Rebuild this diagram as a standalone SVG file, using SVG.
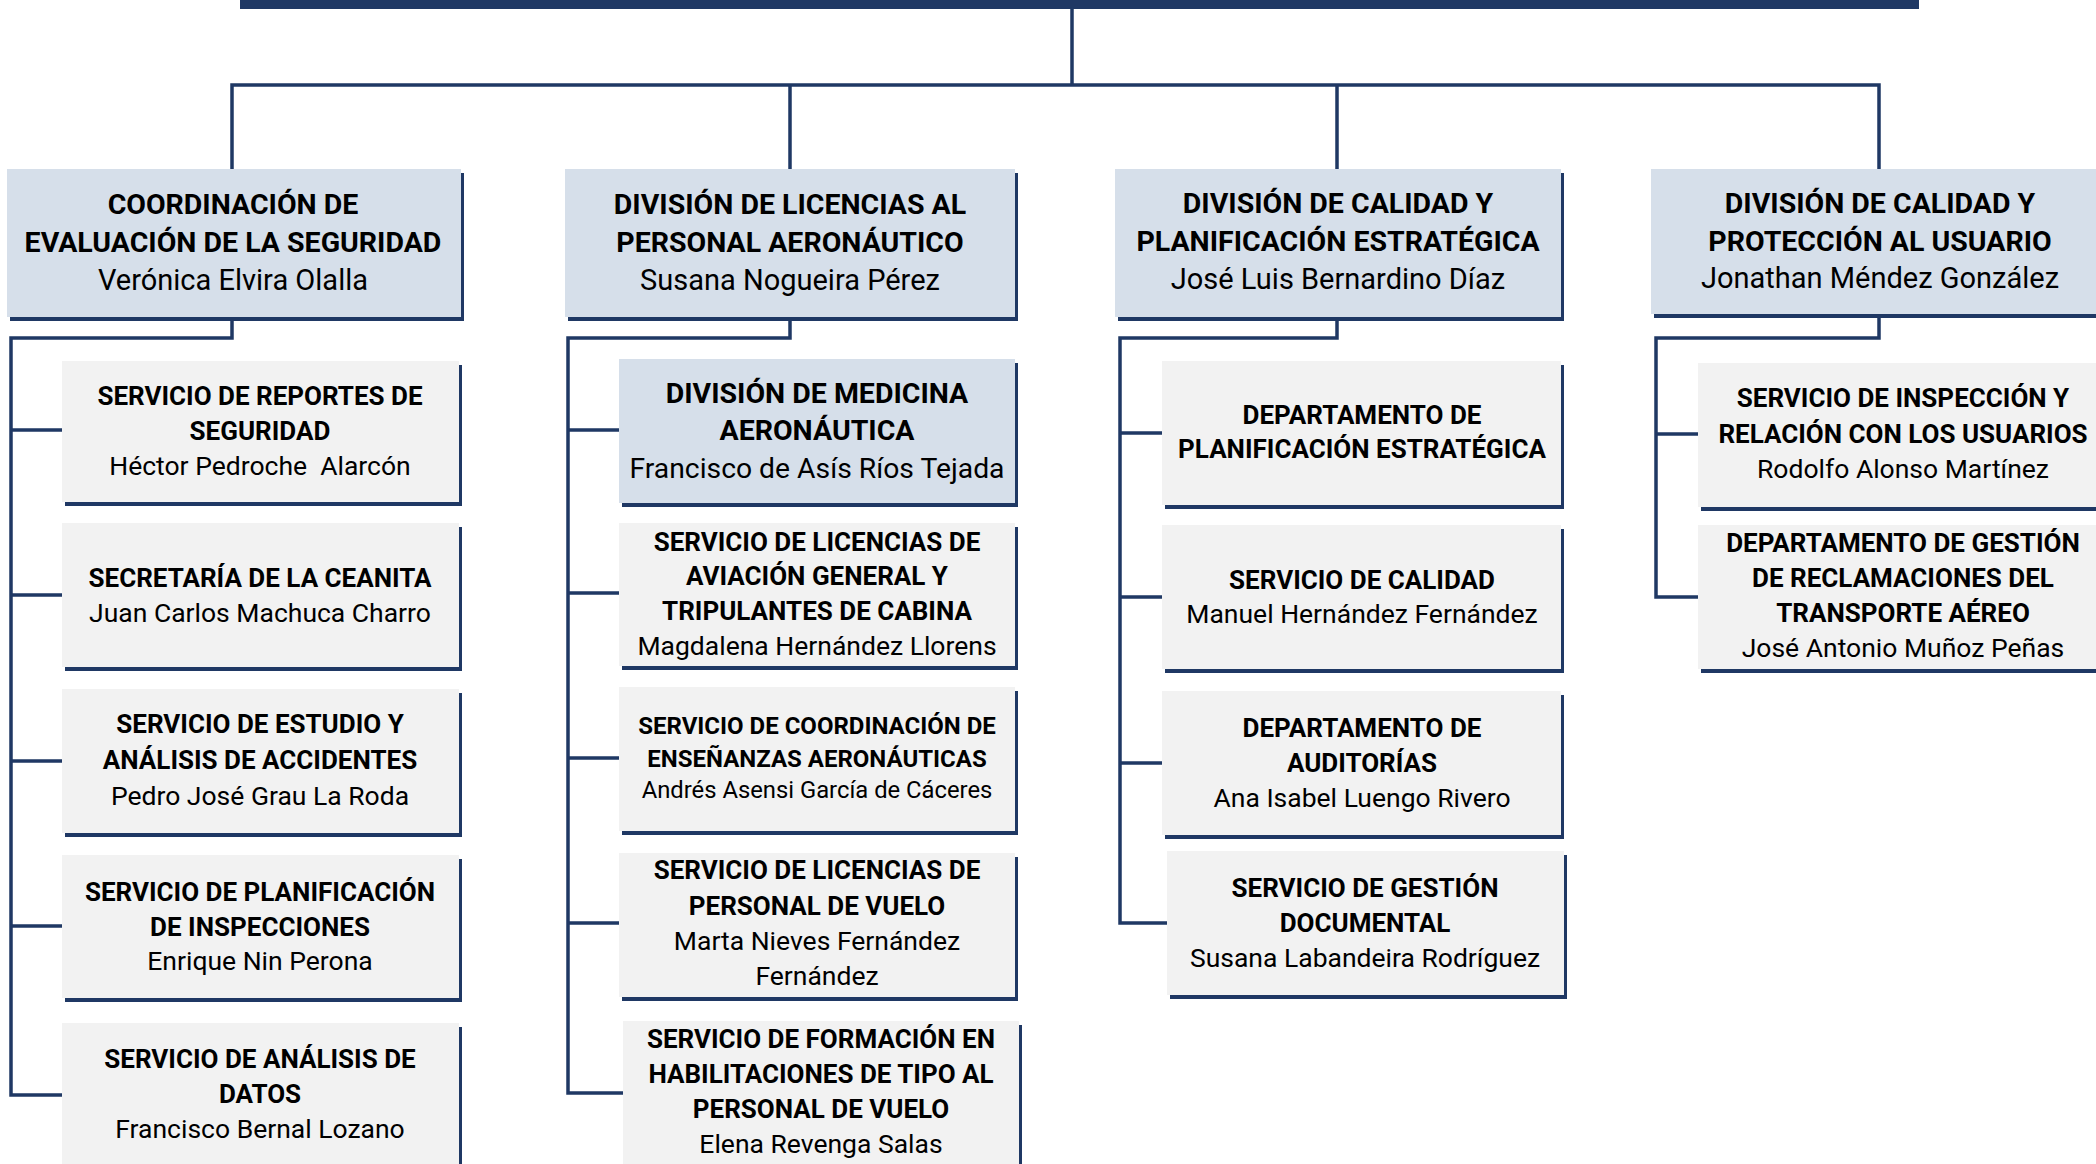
<svg xmlns="http://www.w3.org/2000/svg" width="2096" height="1164" viewBox="0 0 2096 1164">
<style>
.bg{fill:#ffffff}
.top{fill:#D6DFEA}
.ch{fill:#F2F2F2}
.sh{fill:#1F3864}
.ln{fill:none;stroke:#1F3864;stroke-width:3.5;stroke-linecap:square}
text{font-family:Roboto,"Liberation Sans",sans-serif;fill:#000;text-anchor:middle;white-space:pre}
.tt{font-weight:bold;font-size:28.5px}
.tn{font-size:29px}
.ct{font-weight:bold;font-size:26px}
.cn{font-size:26.5px}
.st{font-weight:bold;font-size:24px}
.sn{font-size:23.8px}
</style>
<rect class="bg" x="0" y="0" width="2096" height="1164"/>
<rect class="sh" x="240" y="-2" width="1679" height="11"/>

<g id="connectors">
<path class="ln" d="M1072 9 V85 M232 85 H1879 M232 85 V169 M790 85 V169 M1337 85 V169 M1879 85 V169"/>
<path class="ln" d="M232 321 V338 H11 V1095 M11 430 H62 M11 595 H62 M11 761 H62 M11 926 H62 M11 1095 H62"/>
<path class="ln" d="M790 321 V338 H568 V1093 M568 430 H619 M568 593 H619 M568 758 H619 M568 923 H619 M568 1093 H623"/>
<path class="ln" d="M1337 321 V338 H1120 V923 M1120 433 H1162 M1120 597 H1162 M1120 763 H1162 M1120 923 H1167"/>
<path class="ln" d="M1879 318 V338 H1656 V597 M1656 434 H1698 M1656 597 H1698"/>
</g>

<g id="n-coord">
<rect class="sh" x="10" y="173" width="454" height="148"/>
<rect class="top" x="7" y="169" width="454" height="148"/>
<text class="tt" x="233" y="214">COORDINACIÓN DE</text>
<text class="tt" x="233" y="252">EVALUACIÓN DE LA SEGURIDAD</text>
<text class="tn" x="233" y="290">Verónica Elvira Olalla</text>
</g>
<g id="n-lic">
<rect class="sh" x="568" y="173" width="450" height="148"/>
<rect class="top" x="565" y="169" width="450" height="148"/>
<text class="tt" x="790" y="214">DIVISIÓN DE LICENCIAS AL</text>
<text class="tt" x="790" y="252">PERSONAL AERONÁUTICO</text>
<text class="tn" x="790" y="290">Susana Nogueira Pérez</text>
</g>
<g id="n-calplan">
<rect class="sh" x="1118" y="173" width="446" height="148"/>
<rect class="top" x="1115" y="169" width="446" height="148"/>
<text class="tt" x="1338" y="213">DIVISIÓN DE CALIDAD Y</text>
<text class="tt" x="1338" y="251">PLANIFICACIÓN ESTRATÉGICA</text>
<text class="tn" x="1338" y="289">José Luis Bernardino Díaz</text>
</g>
<g id="n-calusu">
<rect class="sh" x="1654" y="173" width="460" height="145"/>
<rect class="top" x="1651" y="169" width="460" height="145"/>
<text class="tt" x="1880" y="213">DIVISIÓN DE CALIDAD Y</text>
<text class="tt" x="1880" y="251">PROTECCIÓN AL USUARIO</text>
<text class="tn" x="1880" y="288">Jonathan Méndez González</text>
</g>

<g id="c1a">
<rect class="sh" x="65" y="365" width="397" height="141"/>
<rect class="ch" x="62" y="361" width="397" height="141"/>
<text class="ct" x="260" y="405">SERVICIO DE REPORTES DE</text>
<text class="ct" x="260" y="440">SEGURIDAD</text>
<text class="cn" x="260" y="475">Héctor Pedroche  Alarcón</text>
</g>
<g id="c1b">
<rect class="sh" x="65" y="527" width="397" height="144"/>
<rect class="ch" x="62" y="523" width="397" height="144"/>
<text class="ct" x="260" y="587">SECRETARÍA DE LA CEANITA</text>
<text class="cn" x="260" y="622">Juan Carlos Machuca Charro</text>
</g>
<g id="c1c">
<rect class="sh" x="65" y="693" width="397" height="144"/>
<rect class="ch" x="62" y="689" width="397" height="144"/>
<text class="ct" x="260" y="733">SERVICIO DE ESTUDIO Y</text>
<text class="ct" x="260" y="769">ANÁLISIS DE ACCIDENTES</text>
<text class="cn" x="260" y="805">Pedro José Grau La Roda</text>
</g>
<g id="c1d">
<rect class="sh" x="65" y="859" width="397" height="143"/>
<rect class="ch" x="62" y="855" width="397" height="143"/>
<text class="ct" x="260" y="901">SERVICIO DE PLANIFICACIÓN</text>
<text class="ct" x="260" y="936">DE INSPECCIONES</text>
<text class="cn" x="260" y="970">Enrique Nin Perona</text>
</g>
<g id="c1e">
<rect class="sh" x="65" y="1027" width="397" height="150"/>
<rect class="ch" x="62" y="1023" width="397" height="150"/>
<text class="ct" x="260" y="1068">SERVICIO DE ANÁLISIS DE</text>
<text class="ct" x="260" y="1103">DATOS</text>
<text class="cn" x="260" y="1138">Francisco Bernal Lozano</text>
</g>

<g id="c2a">
<rect class="sh" x="622" y="363" width="396" height="144"/>
<rect class="top" x="619" y="359" width="396" height="144"/>
<text class="tt" x="817" y="403">DIVISIÓN DE MEDICINA</text>
<text class="tt" x="817" y="440">AERONÁUTICA</text>
<text class="tn" x="817" y="478" style="font-size:28.3px">Francisco de Asís Ríos Tejada</text>
</g>
<g id="c2b">
<rect class="sh" x="622" y="527" width="396" height="143"/>
<rect class="ch" x="619" y="523" width="396" height="143"/>
<text class="ct" x="817" y="551">SERVICIO DE LICENCIAS DE</text>
<text class="ct" x="817" y="585">AVIACIÓN GENERAL Y</text>
<text class="ct" x="817" y="620">TRIPULANTES DE CABINA</text>
<text class="cn" x="817" y="655">Magdalena Hernández Llorens</text>
</g>
<g id="c2c">
<rect class="sh" x="622" y="691" width="396" height="144"/>
<rect class="ch" x="619" y="687" width="396" height="144"/>
<text class="st" x="817" y="734">SERVICIO DE COORDINACIÓN DE</text>
<text class="st" x="817" y="767">ENSEÑANZAS AERONÁUTICAS</text>
<text class="sn" x="817" y="798">Andrés Asensi García de Cáceres</text>
</g>
<g id="c2d">
<rect class="sh" x="622" y="857" width="396" height="144"/>
<rect class="ch" x="619" y="853" width="396" height="144"/>
<text class="ct" x="817" y="879">SERVICIO DE LICENCIAS DE</text>
<text class="ct" x="817" y="915">PERSONAL DE VUELO</text>
<text class="cn" x="817" y="950">Marta Nieves Fernández</text>
<text class="cn" x="817" y="985">Fernández</text>
</g>
<g id="c2e">
<rect class="sh" x="626" y="1025" width="396" height="150"/>
<rect class="ch" x="623" y="1021" width="396" height="150"/>
<text class="ct" x="821" y="1048">SERVICIO DE FORMACIÓN EN</text>
<text class="ct" x="821" y="1083">HABILITACIONES DE TIPO AL</text>
<text class="ct" x="821" y="1118">PERSONAL DE VUELO</text>
<text class="cn" x="821" y="1153">Elena Revenga Salas</text>
</g>

<g id="c3a">
<rect class="sh" x="1165" y="365" width="399" height="144"/>
<rect class="ch" x="1162" y="361" width="399" height="144"/>
<text class="ct" x="1362" y="424">DEPARTAMENTO DE</text>
<text class="ct" x="1362" y="458">PLANIFICACIÓN ESTRATÉGICA</text>
</g>
<g id="c3b">
<rect class="sh" x="1165" y="529" width="399" height="144"/>
<rect class="ch" x="1162" y="525" width="399" height="144"/>
<text class="ct" x="1362" y="589">SERVICIO DE CALIDAD</text>
<text class="cn" x="1362" y="623">Manuel Hernández Fernández</text>
</g>
<g id="c3c">
<rect class="sh" x="1165" y="695" width="399" height="144"/>
<rect class="ch" x="1162" y="691" width="399" height="144"/>
<text class="ct" x="1362" y="737">DEPARTAMENTO DE</text>
<text class="ct" x="1362" y="772">AUDITORÍAS</text>
<text class="cn" x="1362" y="807">Ana Isabel Luengo Rivero</text>
</g>
<g id="c3d">
<rect class="sh" x="1170" y="855" width="397" height="144"/>
<rect class="ch" x="1167" y="851" width="397" height="144"/>
<text class="ct" x="1365" y="897">SERVICIO DE GESTIÓN</text>
<text class="ct" x="1365" y="932">DOCUMENTAL</text>
<text class="cn" x="1365" y="967">Susana Labandeira Rodríguez</text>
</g>

<g id="c4a">
<rect class="sh" x="1701" y="367" width="410" height="144"/>
<rect class="ch" x="1698" y="363" width="410" height="144"/>
<text class="ct" x="1903" y="407">SERVICIO DE INSPECCIÓN Y</text>
<text class="ct" x="1903" y="443">RELACIÓN CON LOS USUARIOS</text>
<text class="cn" x="1903" y="478">Rodolfo Alonso Martínez</text>
</g>
<g id="c4b">
<rect class="sh" x="1701" y="529" width="410" height="144"/>
<rect class="ch" x="1698" y="525" width="410" height="144"/>
<text class="ct" x="1903" y="552">DEPARTAMENTO DE GESTIÓN</text>
<text class="ct" x="1903" y="587">DE RECLAMACIONES DEL</text>
<text class="ct" x="1903" y="622">TRANSPORTE AÉREO</text>
<text class="cn" x="1903" y="657">José Antonio Muñoz Peñas</text>
</g>
</svg>
